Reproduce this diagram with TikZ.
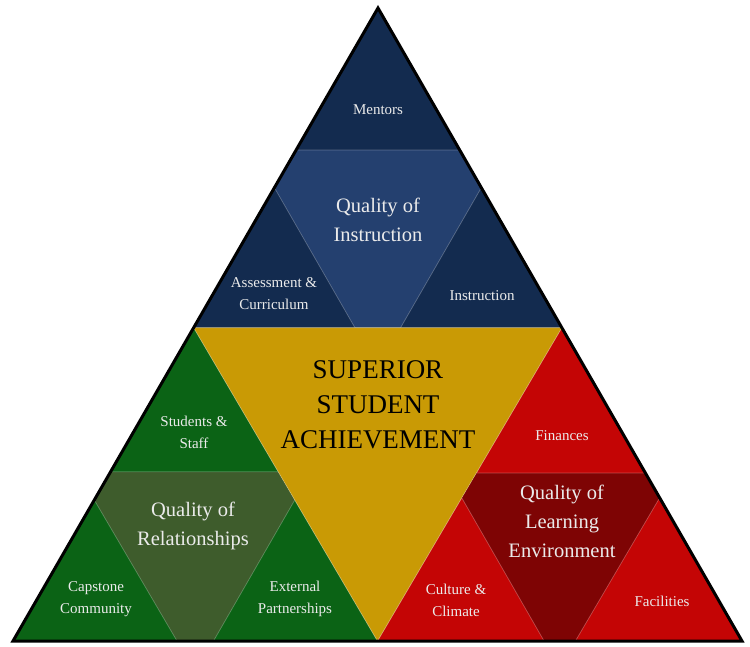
\documentclass[tikz,border=0pt]{standalone}
\usepackage{fontspec}
\setmainfont{Liberation Serif}
\usetikzlibrary{calc}
\definecolor{navy}{HTML}{132B4F}
\definecolor{navylight}{HTML}{24406F}
\definecolor{goldc}{HTML}{C99A05}
\definecolor{greendark}{HTML}{0B6315}
\definecolor{olivec}{HTML}{3E5C2C}
\definecolor{redc}{HTML}{C40505}
\definecolor{redlight}{HTML}{7E0404}
\definecolor{labelc}{HTML}{EBEBEB}
\newcommand{\trigroup}[7]{%
  \fill[#6] (#1) -- (#2) -- (#3) -- cycle;
  \filldraw[fill=#7, sepline] (#1) -- ($(#1)!#4!(#2)$) -- ($(#1)!#4!(#3)$) -- cycle;
  \filldraw[fill=#7, sepline] (#2) -- ($(#2)!#5!(#1)$) -- ($(#2)!#5!(#3)$) -- cycle;
  \filldraw[fill=#7, sepline] (#3) -- ($(#3)!#5!(#1)$) -- ($(#3)!#5!(#2)$) -- cycle;
}
\begin{document}
\begin{tikzpicture}[x=1pt,y=-1pt,
  sepline/.style={draw=white, draw opacity=0.28, line width=0.7pt},
  small/.style={text=labelc, align=center, font=\fontsize{15}{22}\selectfont},
  quality/.style={text=labelc, align=center, font=\fontsize{20.5}{29}\selectfont},
  titletext/.style={text=black, align=center, font=\fontsize{27}{35}\selectfont}]
\useasboundingbox (0,0) rectangle (750,646);
\coordinate (A) at (378,8);
\coordinate (BL) at (13,641);
\coordinate (BR) at (742,641);
\coordinate (ML) at ($(A)!0.505!(BL)$);
\coordinate (MR) at ($(A)!0.505!(BR)$);
\coordinate (MB) at (377.5,641);
% groups
\trigroup{A}{ML}{MR}{0.444}{0.438}{navylight}{navy}
\trigroup{ML}{BL}{MB}{0.46}{0.45}{olivec}{greendark}
\trigroup{MR}{MB}{BR}{0.464}{0.457}{redlight}{redc}
% centre
\filldraw[fill=goldc, sepline] (ML) -- (MR) -- (MB) -- cycle;
% outer border
\draw[line width=3pt, line join=miter] (A) -- (BL) -- (BR) -- cycle;
% labels
\node[small] (mentors) at (378,110) {Mentors};
\node[quality] (qoi) at (378,220) {Quality of\\Instruction};
\node[small] (assess) at (274,294) {Assessment \&\\Curriculum};
\node[small] (instr) at (482,296) {Instruction};
\node[titletext] (title) at (378,405) {SUPERIOR\\STUDENT\\ACHIEVEMENT};
\node[small] (students) at (194,432) {Students \&\\Staff};
\node[quality] (qor) at (193,526) {Quality of\\Relationships};
\node[small] (capstone) at (96,599) {Capstone\\Community};
\node[small] (external) at (295,599) {External\\Partnerships};
\node[small] (finances) at (562,436) {Finances};
\node[quality] (qole) at (562,521) {Quality of\\Learning\\Environment};
\node[small] (culture) at (456,600) {Culture \&\\Climate};
\node[small] (facilities) at (662,601) {Facilities};
\end{tikzpicture}
\end{document}
